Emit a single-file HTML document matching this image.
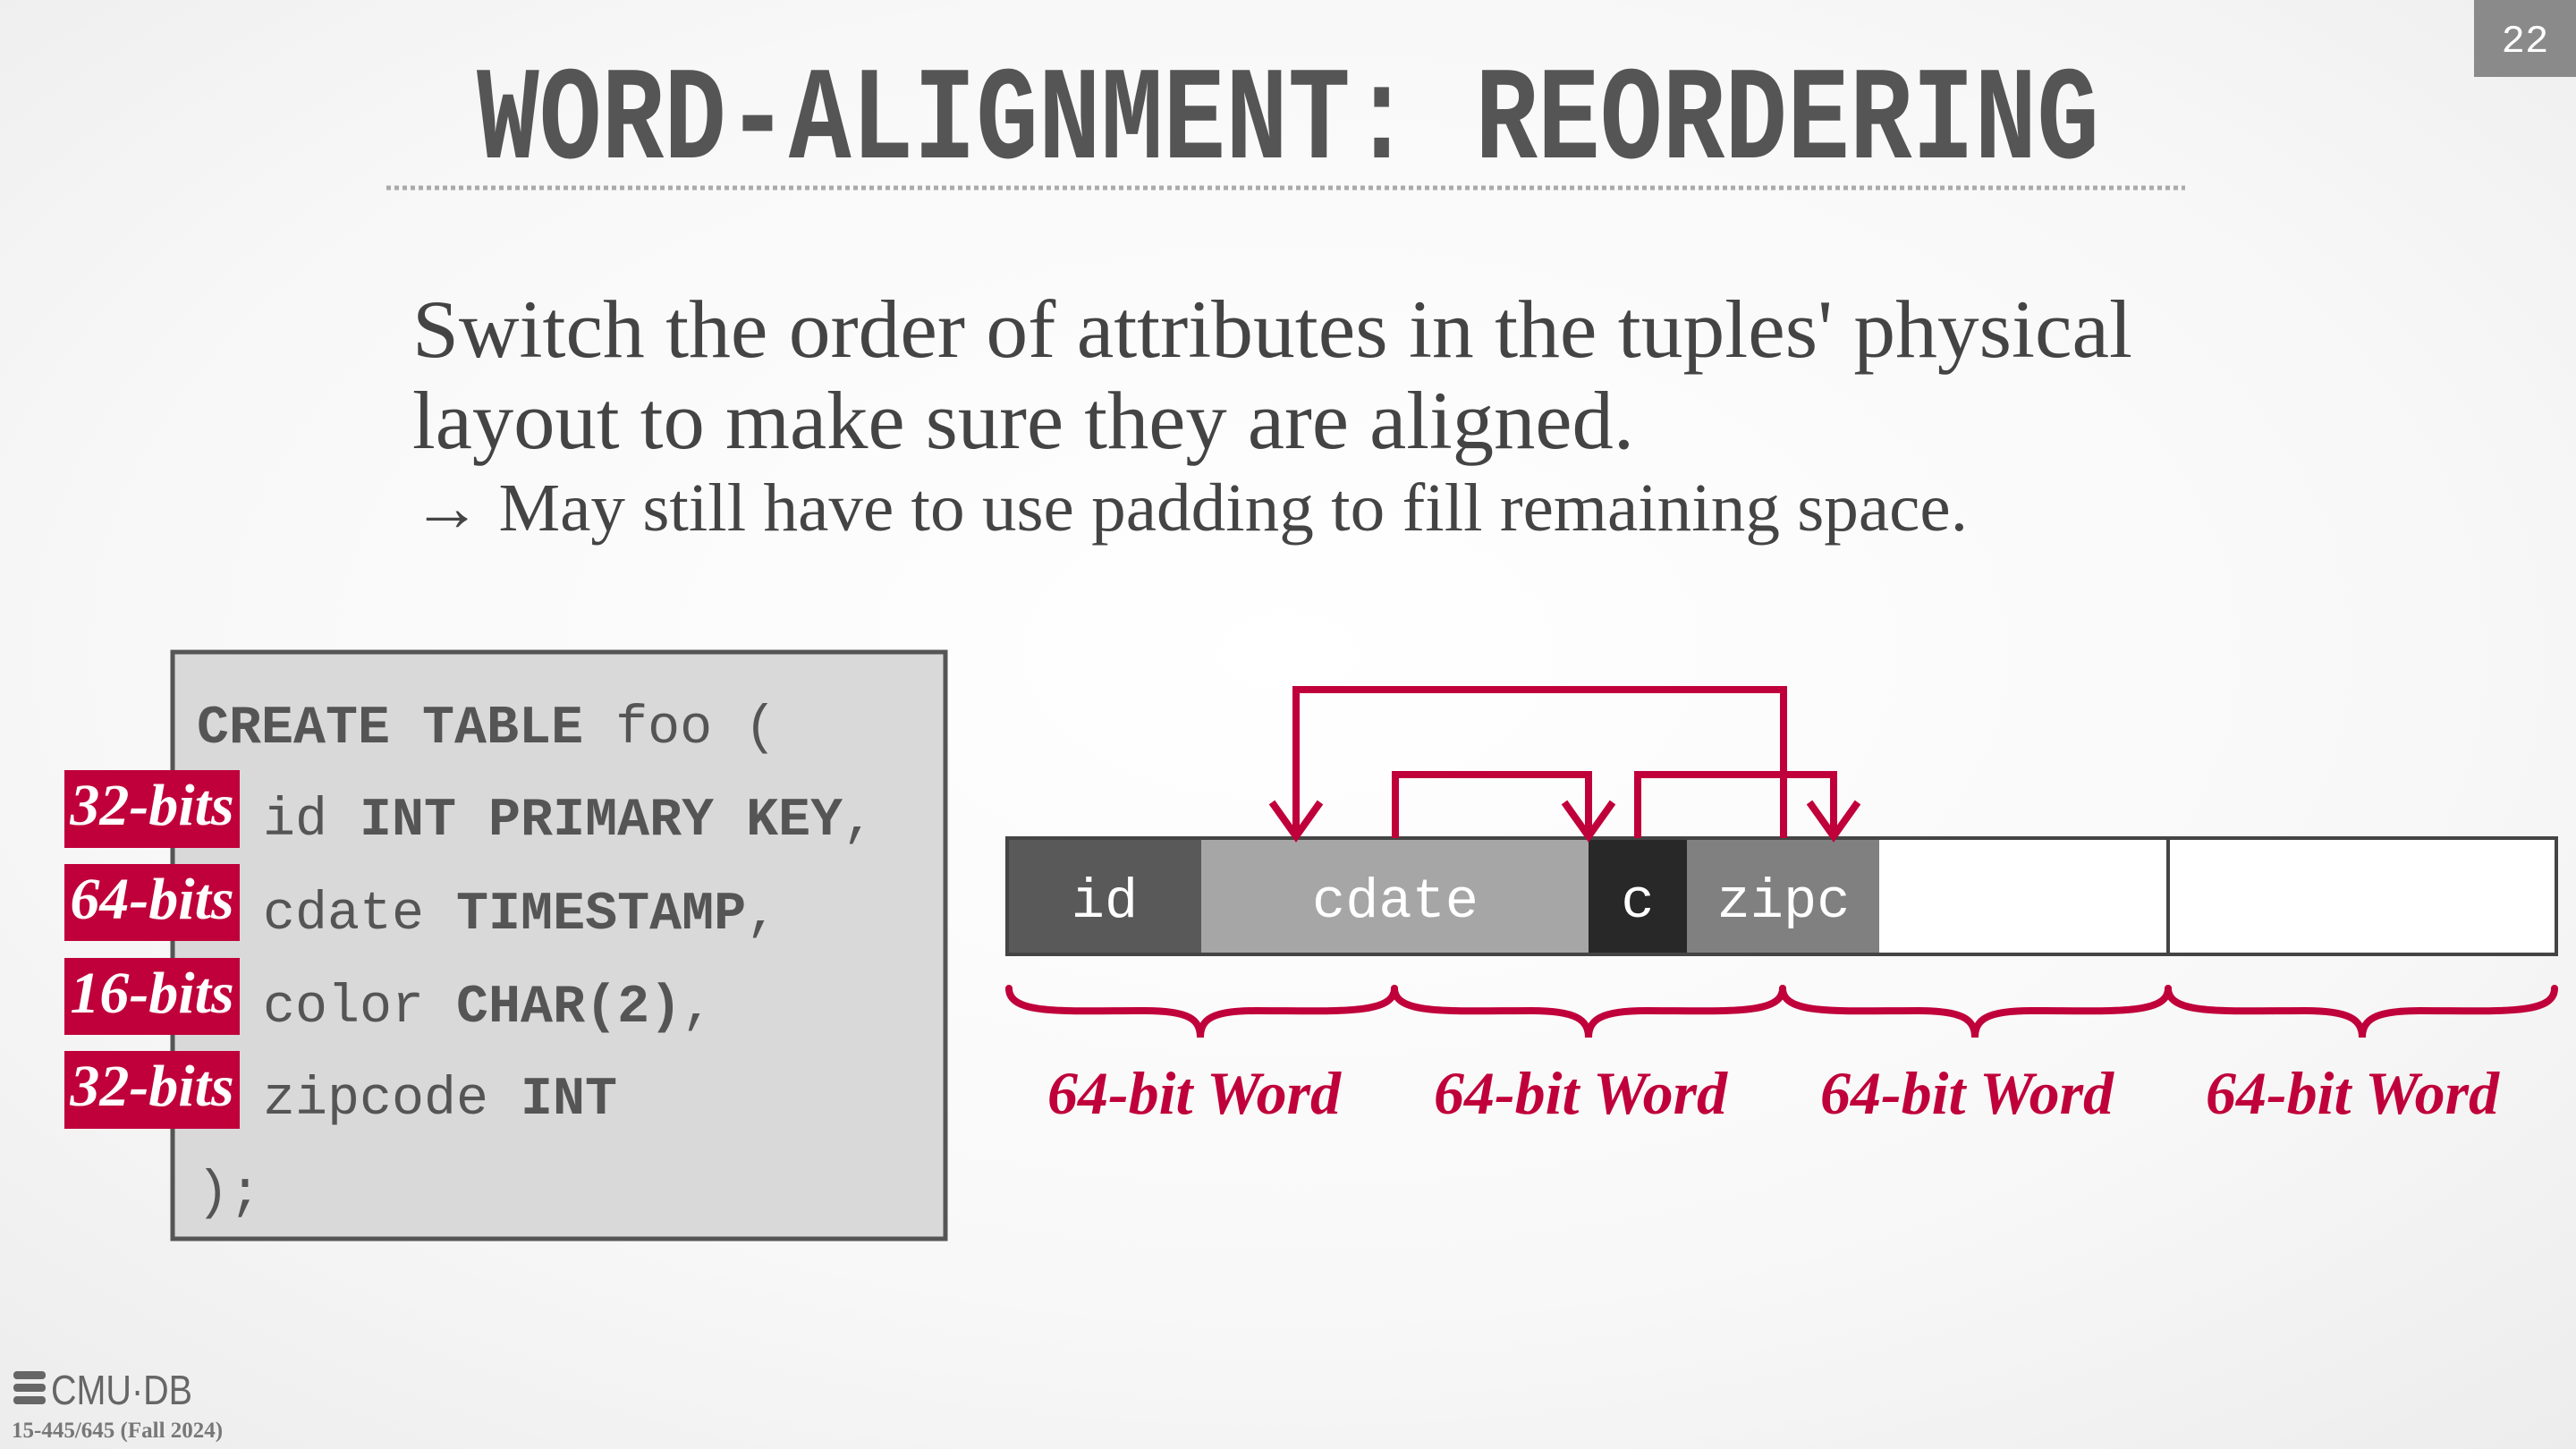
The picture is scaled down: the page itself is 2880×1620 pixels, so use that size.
<!DOCTYPE html>
<html><head><meta charset="utf-8"><style>
html,body{margin:0;padding:0;width:2880px;height:1620px;overflow:hidden}
</style></head><body>
<svg width="2880" height="1620" viewBox="0 0 2880 1620" xmlns="http://www.w3.org/2000/svg">
<defs>
<radialGradient id="bg" cx="0.5" cy="0.45" r="0.75">
<stop offset="0" stop-color="#ffffff"/><stop offset="0.6" stop-color="#f8f8f8"/><stop offset="1" stop-color="#ececec"/>
</radialGradient>
</defs>
<rect width="2880" height="1620" fill="url(#bg)"/>
<rect x="2766" y="0" width="114" height="86" fill="#8a8a8a"/>
<text x="2823" y="58" fill="#fff" font-family="Liberation Mono, monospace" font-size="44" text-anchor="middle">22</text>
<g transform="translate(0,176) scale(1,1.35)">
<text x="533" y="0" textLength="1814" lengthAdjust="spacingAndGlyphs" fill="#555" font-family="Liberation Mono, monospace" font-weight="bold" font-size="110">WORD-ALIGNMENT: REORDERING</text>
</g>
<line x1="432" y1="210" x2="2443" y2="210" stroke="#aaa" stroke-width="5" stroke-dasharray="5,4"/>
<g font-family="Liberation Serif, serif" fill="#444">
<text x="461" y="399" font-size="92" textLength="1923" lengthAdjust="spacingAndGlyphs">Switch the order of attributes in the tuples' physical</text>
<text x="461" y="501" font-size="92" textLength="1366" lengthAdjust="spacingAndGlyphs">layout to make sure they are aligned.</text>
<text x="461" y="593" font-size="76" textLength="1739" lengthAdjust="spacingAndGlyphs">→ May still have to use padding to fill remaining space.</text>
</g>
<rect x="193" y="729" width="864" height="656" fill="#d9d9d9" stroke="#555" stroke-width="5"/>
<g font-family="Liberation Mono, monospace" font-size="60" fill="#555">
<text x="220" y="830"><tspan font-weight="bold">CREATE TABLE</tspan> foo (</text>
<text x="294" y="933">id <tspan font-weight="bold">INT PRIMARY KEY</tspan>,</text>
<text x="294" y="1038">cdate <tspan font-weight="bold">TIMESTAMP</tspan>,</text>
<text x="294" y="1142">color <tspan font-weight="bold">CHAR(2)</tspan>,</text>
<text x="294" y="1245">zipcode <tspan font-weight="bold">INT</tspan></text>
<text x="220" y="1350">);</text>
</g>
<g font-family="Liberation Serif, serif" font-style="italic" font-weight="bold" font-size="66" fill="#fff" text-anchor="middle">
<rect x="72" y="861" width="196" height="87" fill="#c0003a"/><text x="170" y="922">32-bits</text>
<rect x="72" y="966" width="196" height="86" fill="#c0003a"/><text x="170" y="1027">64-bits</text>
<rect x="72" y="1071" width="196" height="86" fill="#c0003a"/><text x="170" y="1132">16-bits</text>
<rect x="72" y="1175" width="196" height="87" fill="#c0003a"/><text x="170" y="1236">32-bits</text>
</g>
<rect x="1126" y="937" width="217" height="130" fill="#595959"/>
<rect x="1343" y="937" width="433" height="130" fill="#a6a6a6"/>
<rect x="1776" y="937" width="110" height="130" fill="#282828"/>
<rect x="1886" y="937" width="215" height="130" fill="#808080"/>
<rect x="2101" y="937" width="323" height="130" fill="#fff"/>
<rect x="2424" y="937" width="434" height="130" fill="#fff"/>
<rect x="1126" y="937" width="1732" height="130" fill="none" stroke="#444" stroke-width="4"/>
<line x1="2424" y1="937" x2="2424" y2="1067" stroke="#444" stroke-width="4"/>
<g font-family="Liberation Mono, monospace" font-size="62" fill="#fff" text-anchor="middle">
<text x="1235" y="1025">id</text><text x="1560" y="1025">cdate</text><text x="1831" y="1025">c</text><text x="1994" y="1025">zipc</text>
</g>
<g fill="none" stroke="#c0003a" stroke-width="8" stroke-linejoin="miter">
<path d="M1994 937 V771 H1449 V935"/>
<path d="M1422 897 L1449 935 L1476 897"/>
<path d="M1560 937 V866 H1776 V935"/>
<path d="M1749 897 L1776 935 L1803 897"/>
<path d="M1831 937 V866 H2050 V935"/>
<path d="M2023 897 L2050 935 L2077 897"/>
</g>
<g fill="none" stroke="#c0003a" stroke-width="8" stroke-linecap="round">
<path d="M1128 1105 C1128 1135 1190 1130 1280 1130 C1330 1130 1342 1140 1342 1160 C1342 1140 1354 1130 1404 1130 C1494 1130 1559 1135 1559 1105"/>
<path d="M1559 1105 C1559 1135 1622 1130 1712 1130 C1762 1130 1776 1140 1776 1160 C1776 1140 1790 1130 1840 1130 C1930 1130 1993 1135 1993 1105"/>
<path d="M1993 1105 C1993 1135 2055 1130 2145 1130 C2195 1130 2208 1140 2208 1160 C2208 1140 2221 1130 2271 1130 C2361 1130 2424 1135 2424 1105"/>
<path d="M2424 1105 C2424 1135 2487 1130 2577 1130 C2627 1130 2641 1140 2641 1160 C2641 1140 2655 1130 2705 1130 C2795 1130 2856 1135 2856 1105"/>
</g>
<g font-family="Liberation Serif, serif" font-style="italic" font-weight="bold" font-size="68" fill="#c0003a" text-anchor="middle">
<text x="1335" y="1245">64-bit Word</text><text x="1767" y="1245">64-bit Word</text><text x="2199" y="1245">64-bit Word</text><text x="2630" y="1245">64-bit Word</text>
</g>
<g fill="#666">
<rect x="15" y="1533" width="36" height="9" rx="4"/><rect x="15" y="1547" width="36" height="9" rx="4"/><rect x="15" y="1561" width="36" height="9" rx="4"/>
<text x="57" y="1570" font-family="Liberation Sans, sans-serif" font-size="46" textLength="158" lengthAdjust="spacingAndGlyphs">CMU·DB</text>
<text x="13" y="1607" font-family="Liberation Serif, serif" font-weight="bold" font-size="25" fill="#777">15-445/645 (Fall 2024)</text>
</g>
</svg>
</body></html>
